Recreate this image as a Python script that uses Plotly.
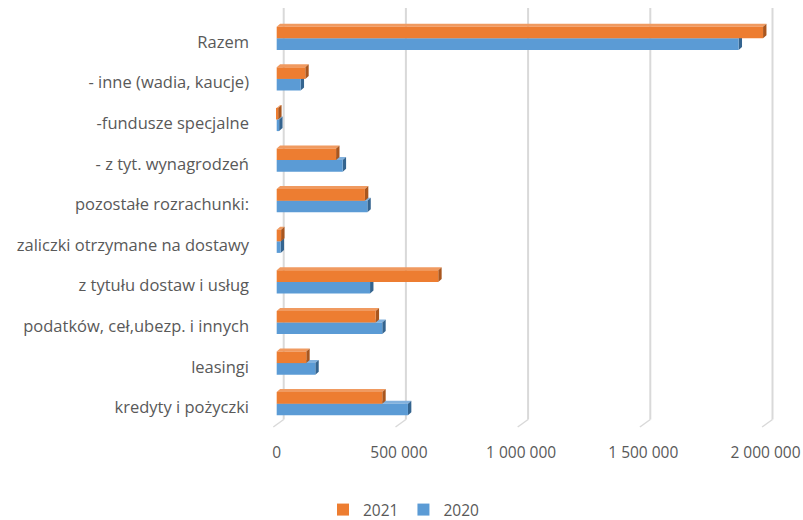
import plotly.graph_objects as go

# ---- data (top to bottom as shown) ----
categories = [
    "Razem",
    "- inne (wadia, kaucje)",
    "-fundusze specjalne",
    "- z tyt. wynagrodzeń",
    "pozostałe rozrachunki:",
    "zaliczki otrzymane na dostawy",
    "z tytułu dostaw i usług",
    "podatków, ceł,ubezp. i innych",
    "leasingi",
    "kredyty i pożyczki",
]
values_2021 = [1990000, 117000, 6000, 243000, 361000, 18000, 661000, 405000, 121000, 432000]
values_2020 = [1890000, 98000, 10000, 270000, 371000, 16000, 382000, 432000, 158000, 537000]
tick_values = [0, 500000, 1000000, 1500000, 2000000]
tick_labels = ["0", "500 000", "1 000 000", "1 500 000", "2 000 000"]

# ---- style / geometry ----
W, H = 803, 520
ORANGE, BLUE = "#ED7D31", "#5B9BD5"
ORANGE_SIDE, BLUE_SIDE = "#A9561E", "#34648F"
ORANGE_TOP, BLUE_TOP = "#F09A60", "#82B1DD"
GRID = "#D9D9D9"
TXT = "#595959"
FONT = "Open Sans"
FS_CAT = 16.5
FS = 15.5

x0_px = 276.7            # pixel of value 0 (front)
px_per_unit = 122.2 / 500000
cat_px = 40.6            # pixels per category
top_cat_px = 38.3        # pixel centre of top category bars
left_px, right_px = 272.0, 777.0
top_px, bot_px = 8.0, 430.0

n = len(categories)
ypos = [n - 1 - i for i in range(n)]  # Razem at top

xmin = (left_px - x0_px) / px_per_unit
xmax = (right_px - x0_px) / px_per_unit
ytop = (n - 1) + (top_cat_px - top_px) / cat_px
ybot = (n - 1) - (bot_px - top_cat_px) / cat_px

bw = 11.6 / cat_px          # bar thickness in category units
dx = 3.4 / px_per_unit      # side-face depth (x)
dy = 3.0 / cat_px           # top-face depth (y)
back_dx = 7.0 / px_per_unit # back-wall gridline offset
back_dy = 7.5 / cat_px
floor_front_dx = -3.4 / px_per_unit
floor_front_y = ybot + (bot_px - 427.0) / cat_px
floor_back_y = floor_front_y + back_dy

fig = go.Figure()
fig.add_trace(go.Bar(
    y=ypos, x=values_2020, orientation="h", name="2020",
    marker=dict(color=BLUE, line=dict(width=0)),
    width=bw, offset=-bw, legendrank=2, hoverinfo="x+name",
))
fig.add_trace(go.Bar(
    y=ypos, x=values_2021, orientation="h", name="2021",
    marker=dict(color=ORANGE, line=dict(width=0)),
    width=bw, offset=0, legendrank=1, hoverinfo="x+name",
))

shapes = []
# back-wall gridlines + floor diagonals
for v in tick_values:
    shapes.append(dict(type="line", xref="x", yref="y", layer="below",
                       x0=v + back_dx, x1=v + back_dx, y0=floor_back_y, y1=ytop,
                       line=dict(color=GRID, width=2)))
    shapes.append(dict(type="line", xref="x", yref="y", layer="below",
                       x0=v + floor_front_dx, x1=v + back_dx, y0=floor_front_y, y1=floor_back_y,
                       line=dict(color=GRID, width=1.5)))


def poly(pts):
    return "M " + " L ".join(f"{a},{b}" for a, b in pts) + " Z"


def faces(vals, lo_off, side_col, top_col):
    out = []
    for y, v in zip(ypos, vals):
        y0 = y + lo_off
        y1 = y0 + bw
        out.append(dict(type="path", xref="x", yref="y", layer="below",
                        path=poly([(0, y1), (dx, y1 + dy), (v + dx, y1 + dy), (v, y1)]),
                        fillcolor=top_col, line=dict(width=0)))
        out.append(dict(type="path", xref="x", yref="y", layer="below",
                        path=poly([(v, y0), (v + dx, y0 + dy), (v + dx, y1 + dy), (v, y1)]),
                        fillcolor=side_col, line=dict(width=0)))
    return out


shapes += faces(values_2020, -bw, BLUE_SIDE, BLUE_TOP)
shapes += faces(values_2021, 0, ORANGE_SIDE, ORANGE_TOP)

fig.update_layout(
    width=W, height=H,
    margin=dict(l=left_px, r=W - right_px, t=top_px, b=H - bot_px, pad=0, autoexpand=False),
    paper_bgcolor="white", plot_bgcolor="white",
    font=dict(family=FONT, size=FS, color=TXT),
    barmode="overlay",
    shapes=shapes,
    showlegend=True,
    legend=dict(orientation="h", xref="container", x=404 / W, xanchor="center",
                yref="container", y=1 - 510 / H, yanchor="middle",
                font=dict(size=FS, color=TXT), itemwidth=30,
                bgcolor="rgba(0,0,0,0)"),
    xaxis=dict(range=[xmin, xmax], tickvals=tick_values, ticktext=tick_labels,
               showgrid=False, zeroline=False, showline=False, ticks="",
               ticklabelstandoff=11, tickfont=dict(size=FS, color=TXT), fixedrange=True,
               automargin=False),
    yaxis=dict(range=[ybot, ytop], tickvals=[y - 0.09 for y in ypos], ticktext=categories,
               showgrid=False, zeroline=False, showline=False, ticks="",
               ticklabelstandoff=22, tickfont=dict(size=FS_CAT, color=TXT), fixedrange=True,
               automargin=False),
)

fig.write_html("out.html")
